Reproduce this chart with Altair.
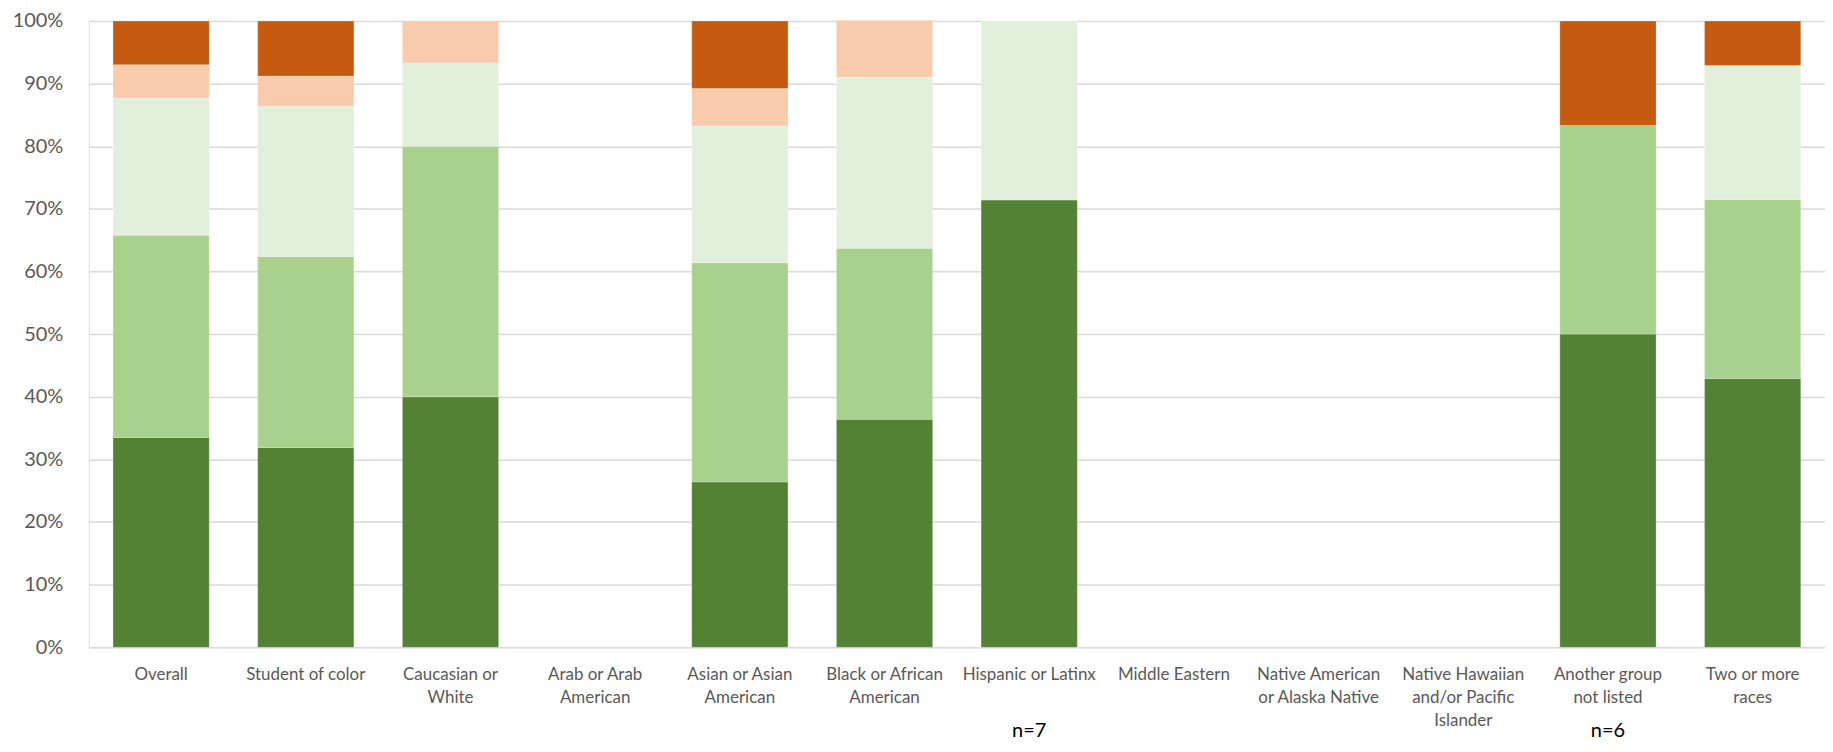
import altair as alt
import pandas as pd

categories = [
    "Overall",
    "Student of color",
    "Caucasian or\nWhite",
    "Arab or Arab\nAmerican",
    "Asian or Asian\nAmerican",
    "Black or African\nAmerican",
    "Hispanic or Latinx",
    "Middle Eastern",
    "Native American\nor Alaska Native",
    "Native Hawaiian\nand/or Pacific\nIslander",
    "Another group\nnot listed",
    "Two or more\nraces",
]

# segment values (percent), bottom to top
seg1 = [33.5, 31.9, 40.0, 0, 26.4, 36.4, 71.4, 0, 0, 0, 50.0, 42.9]   # dark green
seg2 = [32.3, 30.5, 40.0, 0, 35.0, 27.3, 0.0, 0, 0, 0, 33.3, 28.6]    # light green
seg3 = [21.9, 24.0, 13.3, 0, 21.8, 27.3, 28.6, 0, 0, 0, 0.0, 21.4]    # very light green
seg4 = [5.3, 4.8, 6.7, 0, 6.0, 9.1, 0.0, 0, 0, 0, 0.0, 0.0]           # peach
seg5 = [7.0, 8.8, 0.0, 0, 10.8, 0.0, 0.0, 0, 0, 0, 16.7, 7.1]         # orange

series_names = ["s1", "s2", "s3", "s4", "s5"]
series_colors = ["#548235", "#A9D18E", "#E2EFDA", "#F8CBAD", "#C55A11"]

note_cats = ["Hispanic or Latinx", "Another group\nnot listed"]
note_texts = ["n=7", "n=6"]

rows = []
for i, s in enumerate([seg1, seg2, seg3, seg4, seg5]):
    for c, v in zip(categories, s):
        if v > 0:
            rows.append({"cat": c, "series": series_names[i], "idx": i, "value": v / 100.0})
df = pd.DataFrame(rows)
notes = pd.DataFrame({"cat": note_cats, "note": note_texts})

FONT = "Lato"

xscale = alt.Scale(domain=categories, paddingInner=0.335, paddingOuter=0.1675)

bars = alt.Chart(df).mark_bar(stroke="white", strokeWidth=0.4, strokeOpacity=0.6).encode(
    x=alt.X(
        "cat:N",
        scale=xscale,
        sort=categories,
        axis=alt.Axis(
            title=None,
            labelAngle=0,
            domain=False,
            ticks=False,
            tickSize=0,
            labelPadding=19,
            labelFont=FONT,
            labelFontSize=17,
            labelColor="#595959",
            labelLineHeight=23,
            labelLimit=300,
            labelExpr="split(datum.label, '\\n')",
        ),
    ),
    y=alt.Y(
        "value:Q",
        stack="zero",
        scale=alt.Scale(domain=[0, 1], nice=False),
        axis=alt.Axis(
            title=None,
            format=".0%",
            values=[i / 10 for i in range(11)],
            domain=False,
            ticks=False,
            tickSize=0,
            labelPadding=26,
            labelFont=FONT,
            labelFontSize=20,
            labelColor="#595959",
            gridColor="#D9D9D9",
            gridWidth=1.5,
        ),
    ),
    color=alt.Color(
        "series:N",
        scale=alt.Scale(domain=series_names, range=series_colors),
        legend=None,
    ),
    order=alt.Order("idx:Q", sort="ascending"),
)

text = alt.Chart(notes).mark_text(
    font=FONT, fontSize=20, color="#000000", baseline="middle", align="center"
).encode(
    x=alt.X("cat:N", scale=xscale, sort=categories),
    y=alt.value(712),
    text="note:N",
)

chart = (
    alt.layer(bars, text)
    .properties(
        width=1741,
        height=628,
        autosize=alt.AutoSizeParams(type="none"),
        padding={"left": 81, "top": 12, "right": 0, "bottom": 96},
    )
    .configure_view(stroke=None)
    .configure(background="white")
)

chart.save("out.html", embed_options={"renderer": "svg", "actions": False})
